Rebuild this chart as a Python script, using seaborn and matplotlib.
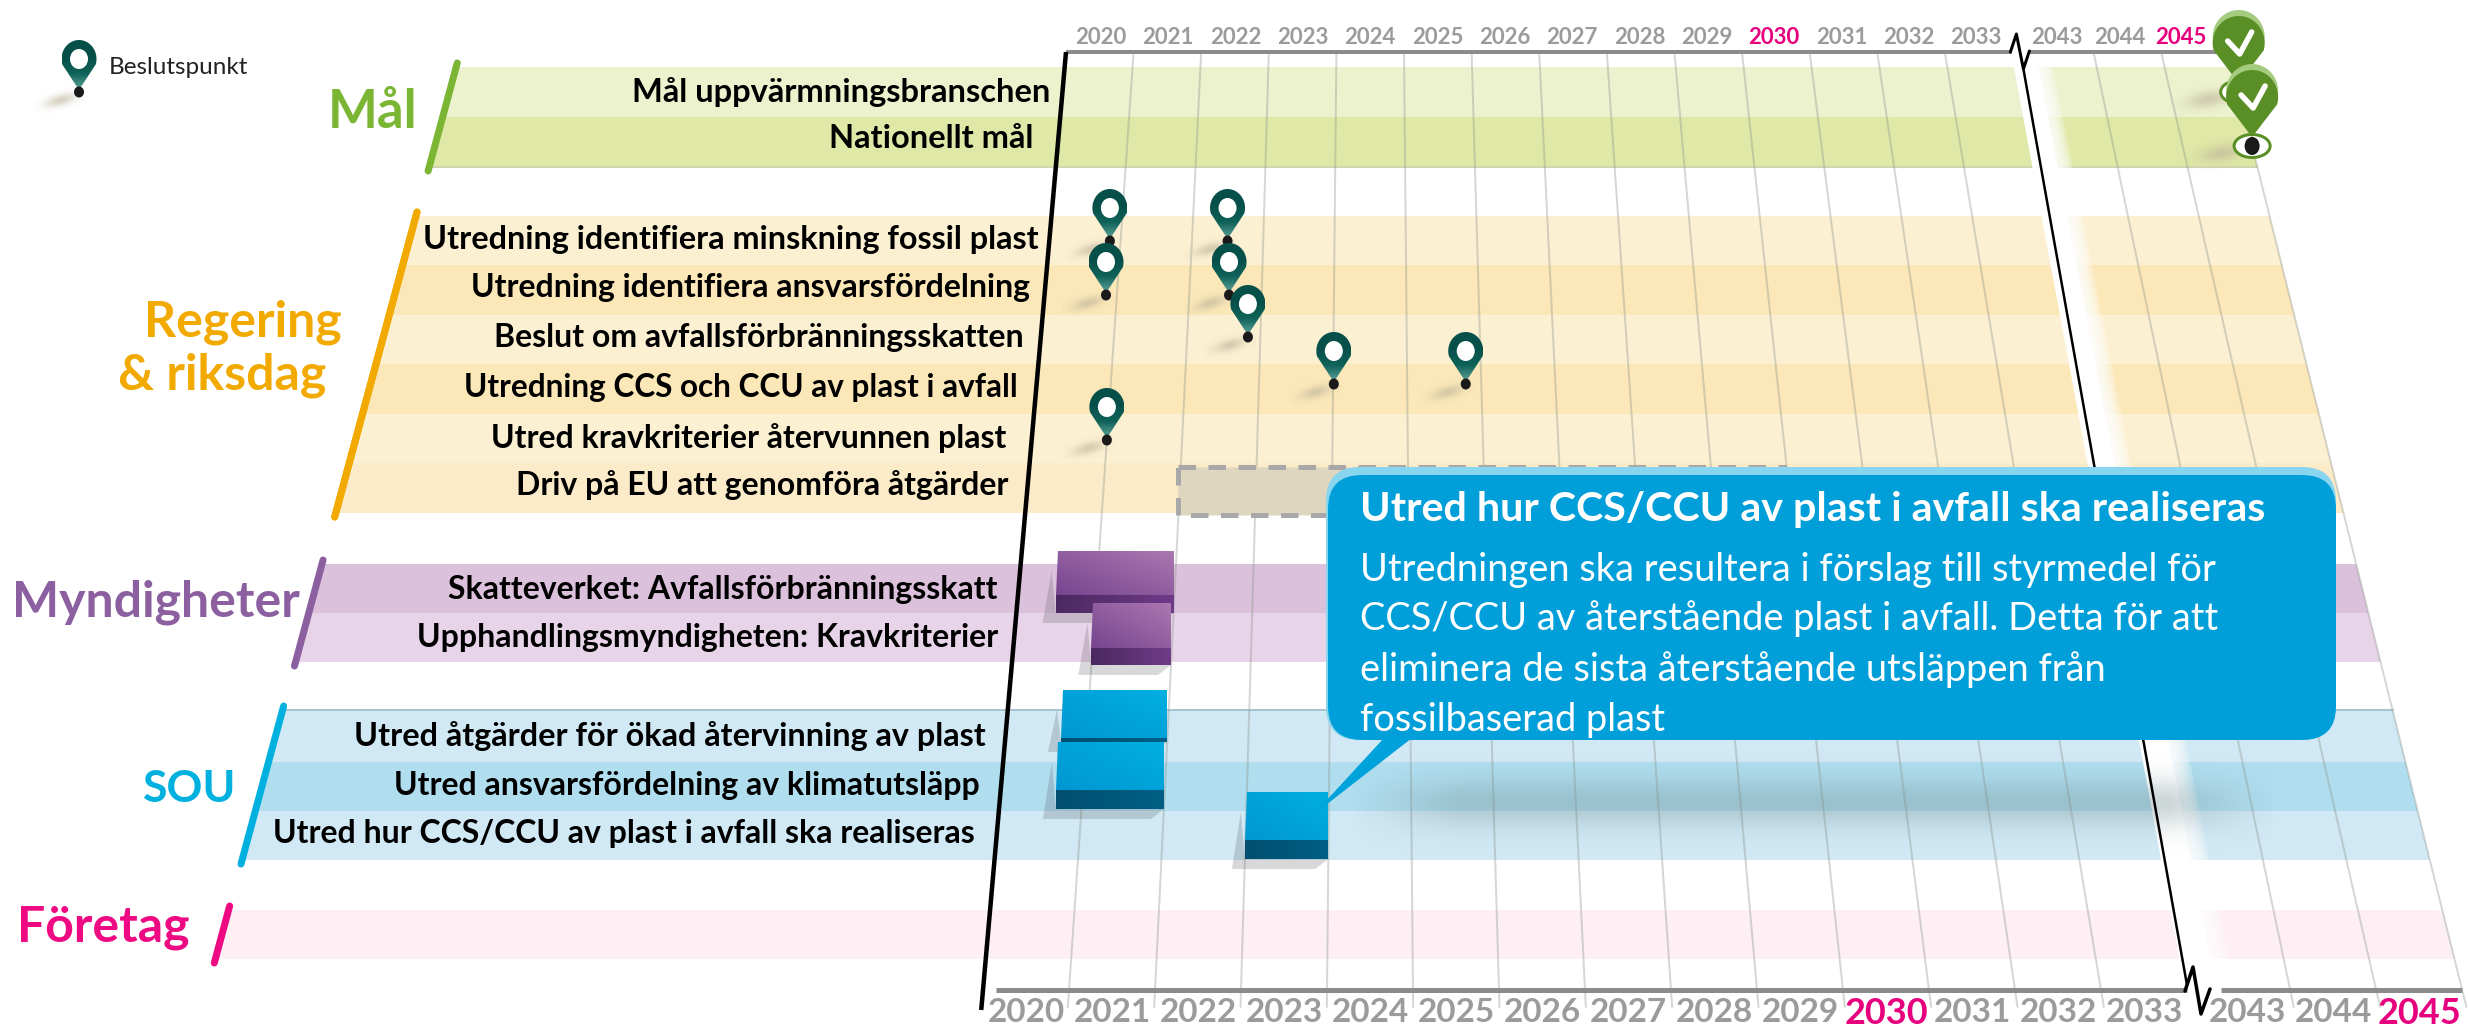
import matplotlib
matplotlib.use('Agg')
import matplotlib.pyplot as plt
import numpy as np
import pandas as pd
import seaborn as sns
from matplotlib.colors import LinearSegmentedColormap, to_rgb
from matplotlib.patches import Polygon, FancyBboxPatch, Ellipse

# --- data ---
years_a = [2020, 2021, 2022, 2023, 2024, 2025, 2026, 2027, 2028, 2029, 2030, 2031, 2032, 2033]
years_b = [2043, 2044, 2045]
pink_years = [2030, 2045]

row_labels = ['Mål uppvärmningsbranschen', 'Nationellt mål',
              'Utredning identifiera minskning fossil plast',
              'Utredning identifiera ansvarsfördelning',
              'Beslut om avfallsförbränningsskatten',
              'Utredning CCS och CCU av plast i avfall',
              'Utred kravkriterier återvunnen plast',
              'Driv på EU att genomföra åtgärder',
              'Skatteverket: Avfallsförbränningsskatt',
              'Upphandlingsmyndigheten: Kravkriterier',
              'Utred åtgärder för ökad återvinning av plast',
              'Utred ansvarsfördelning av klimatutsläpp',
              'Utred hur CCS/CCU av plast i avfall ska realiseras',
              '']

# decision points: year and row index
pin_year = [2020.85, 2022.5, 2020.85, 2022.55, 2022.83, 2024.01, 2025.79, 2021.0]
pin_row = [2, 2, 3, 3, 4, 5, 5, 6]
goal_year = [2046.0, 2046.0]
goal_row = [0, 1]

block_start = [2020.5, 2021.0, 2020.69, 2020.69, 2023.0]
block_end = [2022.0, 2022.0, 2022.0, 2022.0, 2024.0]
block_row = [8, 9, 10, 11, 12]
dashed_start, dashed_end, dashed_row = 2022.0, 2029.9, 7

callout_title = 'Utred hur CCS/CCU av plast i avfall ska realiseras'
callout_lines = ['Utredningen ska resultera i förslag till styrmedel för',
                 'CCS/CCU av återstående plast i avfall. Detta för att',
                 'eliminera de sista återstående utsläppen från',
                 'fossilbaserad plast']

# --- layout (pixels of the 2468x1027 picture) ---
row_top = [67, 117, 216, 265, 315, 364, 414, 463, 564, 613, 710, 762, 811, 910]
row_bot = [117, 167, 265, 315, 364, 414, 463, 513, 613, 662, 762, 811, 860, 959]
row_col = ['#ecf2ce', '#dfe8a6', '#fcf0d2', '#fbe7b8', '#fcf0d2', '#fbe7b8', '#fcf0d2', '#fbebc8',
           '#dbc1db', '#e8d4e8', '#d0e9f5', '#b0deef', '#d0e9f5', '#fdeff4']
label_right = [1050, 1033, 1039, 1030, 1024, 1018, 1006, 1008, 998, 998, 986, 980, 975, 975]
label_y = [92, 139, 239, 288, 338, 388, 438, 485, 590, 637, 736, 786, 834, 934]
label_size = [23.5, 23.5, 23.3, 23, 23, 22.7, 23, 23, 23, 23, 23.3, 23, 23, 23]
pin_tip_y = {2: 241, 3: 295, 4: 337, 5: 384, 6: 440}
goal_tip_y = [92, 146]
top_label_shift = {2044: -4, 2045: -11}

groups = [('Mål', 373, 112, '#7ab534', 0, 1, 38),
          ('Regering', 243, 322, '#f2a900', 2, 7, 36),
          ('& riksdag', 222, 375, '#f2a900', 2, 7, 36),
          ('Myndigheter', 156, 602, '#8b5fa0', 8, 9, 36),
          ('SOU', 190, 789, '#00b0de', 10, 12, 32),
          ('Företag', 103, 928, '#ee0a82', 13, 13, 36)]

block_y = [(551, 595, 613), (603, 648, 665), (690, 738, 742), (742, 790, 809), (792, 840, 859)]
block_cols = [('#76458f', '#ab77b0', '#4b2960', '#6f3b88'), ('#76458f', '#ab77b0', '#4b2960', '#6f3b88'),
              ('#0097d3', '#00afe0', '#004f70', '#005f85'), ('#0097d3', '#00afe0', '#004f70', '#005f85'),
              ('#0097d3', '#00afe0', '#004f70', '#005f85')]

TOP, BOT = 52, 990
U_MAX = 17.2


def year_u(y):
    return y - 2020 if y <= 2034 else y - 2043 + 14.2


def xpos(u, y):
    top = 1066 + 67.6 * u
    bot = 983 + 86.0 * u
    return top + (bot - top) * (y - TOP) / (BOT - TOP)


def slant(y):
    return 457 - (y - 64) * 0.27


def px(n):
    return n * 0.72


sns.set_theme(style='white')
plt.rcParams['font.family'] = ['Lato', 'DejaVu Sans']
fig = plt.figure(figsize=(24.68, 10.27), dpi=100)
ax = fig.add_axes([0, 0, 1, 1])


def grad(poly, cols, z, angle='v'):
    # gradient fill, clipped to a polygon
    poly = np.array(poly)
    x0, y0 = poly.min(axis=0)
    x1, y1 = poly.max(axis=0)
    xx, yy = np.meshgrid(np.linspace(0, 1, 64), np.linspace(0, 1, 64))
    g = {'v': yy, 'h': xx, 'd': (xx + 1 - yy) / 2}[angle]
    cmap = LinearSegmentedColormap.from_list('g', cols)
    im = ax.imshow(g, extent=(x0, x1, y1, y0), aspect='auto', cmap=cmap, vmin=0, vmax=1, zorder=z,
                   interpolation='bilinear')
    im.set_clip_path(Polygon(poly, closed=True, transform=ax.transData))


def soft_shadow(cx, cy, rx, ry, col, alpha, z, tilt=0.0):
    xs = np.linspace(cx - rx * 2, cx + rx * 2, 60)
    ys = np.linspace(cy - ry * 2, cy + ry * 2, 60)
    xx, yy = np.meshgrid(xs, ys)
    dx = (xx - cx) - tilt * (yy - cy)
    a = alpha * np.exp(-(dx / rx) ** 2 - ((yy - cy) / ry) ** 2)
    rgba = np.zeros((60, 60, 4))
    rgba[..., :3] = to_rgb(col)
    rgba[..., 3] = a
    ax.imshow(rgba, extent=(xs[0], xs[-1], ys[-1], ys[0]), aspect='auto', zorder=z, interpolation='bilinear')


def pin_shape(cx, cy, rx, ry, tip):
    t = np.radians(np.linspace(-196, 16, 60))
    head = np.c_[cx + rx * np.cos(t), cy + ry * np.sin(t)]
    return np.vstack([head, [[cx, tip]]])


def pin(tx, ty, z):
    soft_shadow(tx - 18, ty + 8, 13, 7, '#bdb49a', 0.6, z - 0.1, tilt=-1.2)
    cy = ty - 33
    grad(pin_shape(tx, cy, 17.5, 19, ty - 2), ['#07504a', '#07504a', '#0f6259', '#5fa39b'], z)
    ax.add_patch(Ellipse((tx, cy), 18, 20, fc='white', ec='none', zorder=z + 0.01))
    ax.add_patch(Ellipse((tx, ty), 10, 11, fc='#1a1a1a', ec='none', zorder=z + 0.02))


def goal_pin(tx, ty, z):
    soft_shadow(tx - 30, ty + 7, 20, 9, '#bdb49a', 0.6, z - 0.1, tilt=-1.0)
    ax.add_patch(Ellipse((tx, ty), 36, 23, fc='white', ec='#5a8f26', lw=px(3), zorder=z))
    ax.add_patch(Ellipse((tx, ty), 15, 18, fc='#1a1a1a', ec='none', zorder=z + 0.01))
    cy = ty - 49
    ax.add_patch(Polygon(pin_shape(tx, cy - 6, 26, 27, ty - 15), fc='#a5cb7e', ec='none', zorder=z + 0.02))
    ax.add_patch(Polygon(pin_shape(tx, cy, 26, 27, ty - 9), fc='#5a8f26', ec='none', zorder=z + 0.03))
    ax.plot([tx - 11, tx + 1, tx + 13], [cy - 2, cy + 11, cy - 11], color='white', lw=px(5.5),
            solid_joinstyle='round', zorder=z + 0.04)


# bands
for top, bot, col in zip(row_top, row_bot, row_col):
    ax.fill([slant(top), xpos(U_MAX, top), xpos(U_MAX, bot), slant(bot)], [top, top, bot, bot],
            color=col, lw=0, zorder=1)
ax.plot([slant(710), xpos(U_MAX, 710)], [710, 710], color='#a9c4cf', lw=px(2), zorder=1.1)
ax.plot([slant(167), xpos(U_MAX, 167)], [167, 167], color='#cfd6ae', lw=px(2), zorder=1.1)

# year grid
grid_u = [u for u in range(1, 14)] + [year_u(y + 1) for y in years_b]
grid = pd.DataFrame([{'u': u, 'x': xpos(u, y), 'y': y} for u in grid_u for y in (TOP, 1007)])
sns.lineplot(data=grid, x='x', y='y', units='u', estimator=None, sort=False, color='#8f978f',
             alpha=0.38, lw=px(2), legend=False, ax=ax, zorder=2)

# white gap at the axis break
for a in np.linspace(14.56, 14.36, 8):
    ax.fill([xpos(14.0, 52), xpos(a, 52), xpos(a, 1007), xpos(14.0, 1007)], [52, 52, 1007, 1007],
            color='white', alpha=0.22, lw=0, zorder=2.5)
ax.fill([xpos(13.98, 52), xpos(14.34, 52), xpos(14.34, 1007), xpos(13.98, 1007)], [52, 52, 1007, 1007],
        color='white', lw=0, zorder=2.6)

# axes
ax.plot([xpos(0, TOP), xpos(14, TOP)], [TOP, TOP], color='#8c8a8c', lw=px(4), zorder=3, solid_capstyle='butt')
ax.plot([xpos(14.25, TOP), xpos(U_MAX, TOP)], [TOP, TOP], color='#8c8a8c', lw=px(4), zorder=3, solid_capstyle='butt')
ax.plot([996, xpos(14, BOT)], [BOT, BOT], color='#8c8a8c', lw=px(5), zorder=3, solid_capstyle='butt')
ax.plot([xpos(14.4, BOT), xpos(U_MAX, BOT)], [BOT, BOT], color='#8c8a8c', lw=px(5), zorder=3, solid_capstyle='butt')
ax.plot([xpos(0, TOP), xpos(0, 1010)], [TOP, 1010], color='black', lw=px(4.5), zorder=6, solid_capstyle='butt')

# break marks
x_t = xpos(14, TOP)
x_b = xpos(14, BOT)
ax.plot([x_t - 2, x_t + 4, x_t + 11, x_t + 17], [TOP, 34, 69, 51], color='black', lw=px(3), zorder=6)
ax.plot([x_t + 11, x_b], [69, 985], color='black', lw=px(2.5), zorder=6)
ax.plot([x_b - 2, x_b + 6, x_b + 14, x_b + 23], [BOT + 1, 967, 1014, 989], color='black', lw=px(3.5), zorder=6)

# year labels
for y in years_a + years_b:
    col = '#e6007e' if y in pink_years else '#9b9b9b'
    u = year_u(y) + 0.5
    ax.text(xpos(u, 37) + top_label_shift.get(y, 0), 37, str(y), color=col, fontsize=16, fontweight='bold',
            ha='center', va='center', zorder=7)
    ax.text(xpos(u, 990), 1013, str(y), color=col, fontsize=26 if y in pink_years else 24,
            fontweight='bold', ha='center', va='center', zorder=7)

# row labels
for lab, xr, yc, fs in zip(row_labels, label_right, label_y, label_size):
    ax.text(xr, yc, lab, fontsize=fs, fontweight='bold', color='black', ha='right', va='center', zorder=7)

# group titles and their strokes
for name, xc, yc, col, r0, r1, fs in groups:
    ax.text(xc, yc, name, color=col, fontsize=fs, fontweight='bold', ha='center', va='center', zorder=7)
    y0, y1 = row_top[r0] - 4, row_bot[r1] + 4
    ax.plot([slant(y0), slant(y1)], [y0, y1], color=col, lw=px(7), solid_capstyle='round', zorder=5)

# dashed block
y0, y1 = 467, row_bot[dashed_row] + 2
xl = xpos(year_u(dashed_start), y1)
xr = xpos(year_u(dashed_end), y1)
ax.add_patch(Polygon([(xl, y0), (xr, y0), (xr, y1), (xl, y1)], fc='#ded6bf', ec='#a8a8a8', lw=px(5),
                     ls=(0, (3.5, 2.5)), zorder=3.5))

# blocks
for s, e, (yt, ym, yb), (c1, c2, c3, c4) in zip(block_start, block_end, block_y, block_cols):
    xl = xpos(year_u(s), yb)
    xr = xpos(year_u(e), yb)
    ax.fill([xl - 4, xl, xr, xr - 13, xl - 13], [yt + 20, yb, yb, yb + 10, yb + 10],
            color='#50505a', alpha=0.22, lw=0, zorder=3.7)
    grad([(xl + 2, yt), (xr, yt), (xr, ym), (xl, ym)], [c1, c2], 4, 'd')
    grad([(xl, ym), (xr, ym), (xr, yb), (xl, yb)], [c3, c4], 4, 'h')

# legend pin
pin(79, 92, 8)
ax.text(109, 68, 'Beslutspunkt', fontsize=17.5, color='#222222', ha='left', va='center', zorder=8)

# decision points
for yr, r in zip(pin_year, pin_row):
    ty = pin_tip_y[r]
    pin(xpos(year_u(yr), ty), ty, 8 + ty / 1000)
for yr, ty in zip(goal_year, goal_tip_y):
    goal_pin(xpos(year_u(yr), ty), ty, 8 + ty / 1000)

# shadow under the callout
xs = np.linspace(1340, 2290, 200)
ys = np.linspace(745, 865, 60)
xx, yy = np.meshgrid(xs, ys)
fade = np.clip((xx - 1350) / 110, 0, 1) * np.clip((2280 - xx) / 110, 0, 1)
rgba = np.zeros((60, 200, 4))
rgba[..., :3] = to_rgb('#6f8a8e')
rgba[..., 3] = 0.34 * fade * np.exp(-((yy - 803) / 25) ** 2)
ax.imshow(rgba, extent=(xs[0], xs[-1], ys[-1], ys[0]), aspect='auto', zorder=4.5, interpolation='bilinear')

# callout
ax.add_patch(FancyBboxPatch((1326, 467), 1010, 273, boxstyle='round,pad=0,rounding_size=34', fc='#87d5ee',
                            ec='none', zorder=9))
ax.add_patch(FancyBboxPatch((1328, 475), 1008, 265, boxstyle='round,pad=0,rounding_size=34', fc='#009fd9',
                            ec='none', zorder=9.1))
ax.add_patch(Polygon([(1384, 738), (1412, 738), (1313, 815)], fc='#00a2db', ec='none', zorder=9.1))
ax.text(1360, 510, callout_title, color='white', fontsize=29.7, fontweight='bold', ha='left', va='center', zorder=10)
for line, yc in zip(callout_lines, [570, 619, 670, 720]):
    ax.text(1360, yc, line, color='white', fontsize=27.4, ha='left', va='center', zorder=10)

ax.set_xlim(0, 2468)
ax.set_ylim(1027, 0)
ax.axis('off')
fig.savefig('out.png', dpi=100, facecolor='white')
